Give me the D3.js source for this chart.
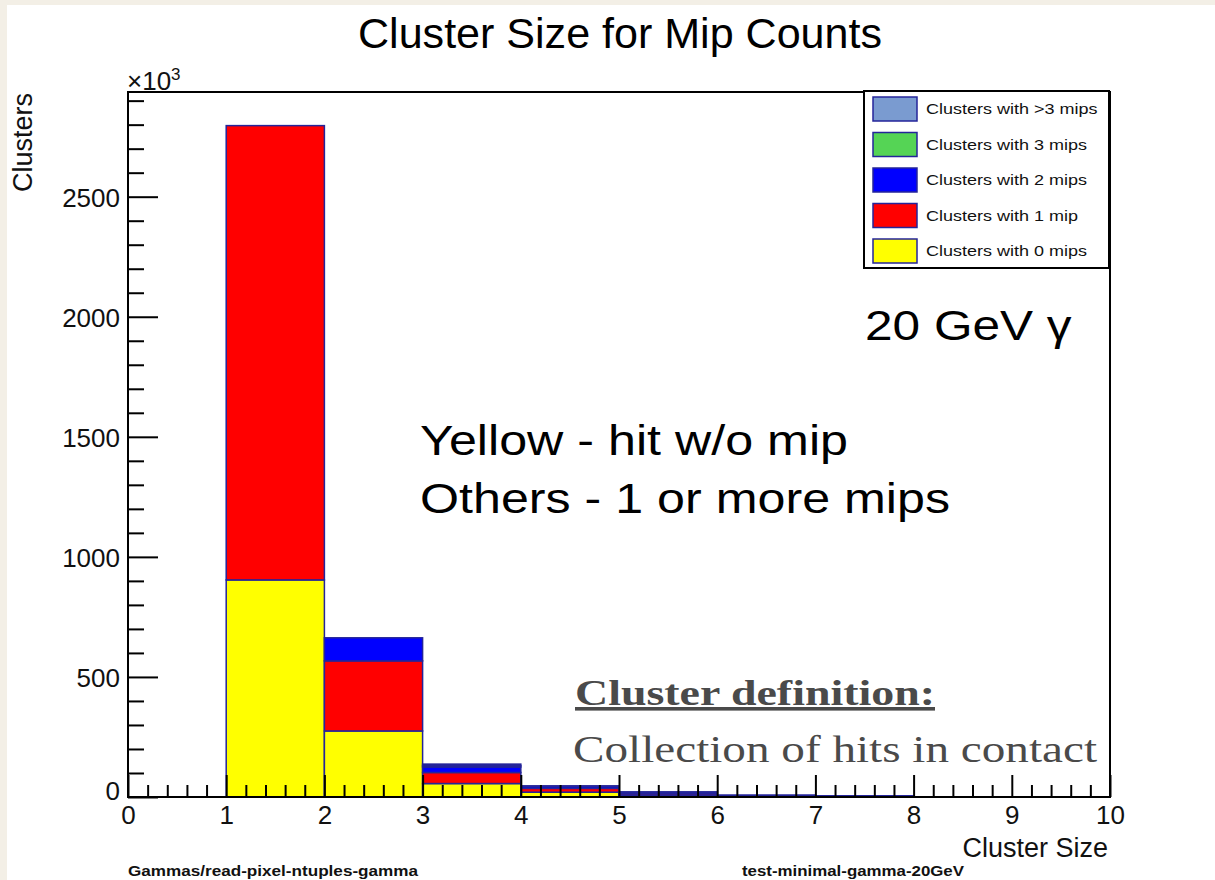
<!DOCTYPE html>
<html><head><meta charset="utf-8">
<script src="https://cdn.jsdelivr.net/npm/d3@7"></script>
<style>
html,body{margin:0;padding:0;background:#f3efe6;}
svg{display:block;}
</style></head>
<body>
<svg id="chart" width="1215" height="880"></svg>
<script>
// ---- data ----
const binEdges = [0,1,2,3,4,5,6,7,8,9,10];
const zeroMips  = [0, 904, 275, 56, 20, 6, 3, 2, 0, 0];
const oneMip    = [0, 1892, 292, 46, 16, 7, 3, 2, 0, 0];
const twoMips   = [0, 0, 96, 23, 8, 6, 2, 1, 0, 0];
const threeMips = [0, 0, 0, 6, 1, 1, 0, 0, 0, 0];
const moreMips  = [0, 0, 0, 6, 1, 1, 0, 0, 0, 0];
const seriesNames = ["Clusters with 0 mips","Clusters with 1 mip","Clusters with 2 mips","Clusters with 3 mips","Clusters with >3 mips"];
const seriesColors = ["#ffff00","#ff0000","#0000ff","#55d455","#7a9bd0"];
const xTicks = [0,1,2,3,4,5,6,7,8,9,10];
const yTicks = [0,500,1000,1500,2000,2500];
const yMax = 2936;

const svg = d3.select("#chart");
svg.append("rect").attr("x",7).attr("y",5).attr("width",1208).attr("height",875).attr("fill","#ffffff");

const x = d3.scaleLinear().domain([0,10]).range([128,1110]);
const y = d3.scaleLinear().domain([0,yMax]).range([797,92]);

function stretch(sel, f){
  const n = sel.node();
  const w = n.getComputedTextLength();
  sel.attr("textLength", w*f).attr("lengthAdjust","spacingAndGlyphs");
  return sel;
}

const allSeries = [zeroMips, oneMip, twoMips, threeMips, moreMips];
const rows = binEdges.slice(0,-1).map((b,i)=>{
  const r = {x0:b, x1:binEdges[i+1]};
  allSeries.forEach((s,k)=>r["s"+k]=s[i]);
  return r;
});
const stack = d3.stack().keys(allSeries.map((_,k)=>"s"+k));
const stacked = stack(rows);

const gBars = svg.append("g");
stacked.forEach((layer,k)=>{
  gBars.selectAll(null).data(layer.filter(d=>d[1]-d[0]>0)).enter().append("rect")
    .attr("x",d=>x(d.data.x0))
    .attr("width",d=>x(d.data.x1)-x(d.data.x0))
    .attr("y",d=>y(d[1]))
    .attr("height",d=>y(d[0])-y(d[1]))
    .attr("fill",seriesColors[k])
    .attr("stroke","#24249a").attr("stroke-width",1.5);
});

const fontAxis = "Liberation Sans, Arial, Helvetica, sans-serif";
const xMinor = d3.range(0,10.001,0.2).filter(v=>Math.abs(v-Math.round(v))>1e-6);
const yMinor = d3.range(0,yMax,100).filter(v=>v%500!==0);

const gx = svg.append("g").attr("transform","translate(0,797)");
gx.call(d3.axisBottom(x).tickValues(xTicks).tickSizeInner(-22).tickSizeOuter(0).tickPadding(9).tickFormat(d3.format("d")));
const gxm = svg.append("g").attr("transform","translate(0,797)");
gxm.call(d3.axisBottom(x).tickValues(xMinor).tickSizeInner(-12).tickSizeOuter(0).tickFormat(""));
const gy = svg.append("g").attr("transform","translate(128,0)");
gy.call(d3.axisLeft(y).tickValues(yTicks).tickSizeInner(-30).tickSizeOuter(0).tickPadding(8).tickFormat(d3.format("d")));
const gym = svg.append("g").attr("transform","translate(128,0)");
gym.call(d3.axisLeft(y).tickValues(yMinor).tickSizeInner(-16).tickSizeOuter(0).tickFormat(""));
[gx,gxm,gy,gym].forEach(g=>{
  g.select(".domain").remove();
  g.selectAll(".tick line").attr("stroke","#000").attr("stroke-width",2);
  g.selectAll("text").attr("font-family",fontAxis).attr("font-size",26).attr("fill","#111");
});
gy.selectAll(".tick text").attr("dy","0.36em");
gy.selectAll(".tick").filter(d=>d===0).select("text").attr("dy","0.1em");

svg.append("rect").attr("x",128).attr("y",92).attr("width",1110-128).attr("height",797-92)
  .attr("fill","none").attr("stroke","#000").attr("stroke-width",2);

const ex = svg.append("text").attr("x",127).attr("y",90).attr("font-family",fontAxis).attr("font-size",26).attr("fill","#111");
ex.append("tspan").text("\u00d710");
ex.append("tspan").attr("dy",-10).attr("font-size",17).text("3");

svg.append("text").attr("x",620).attr("y",48).attr("text-anchor","middle")
  .attr("font-family",fontAxis).attr("font-size",42).attr("fill","#000")
  .attr("textLength",524).attr("lengthAdjust","spacingAndGlyphs")
  .text("Cluster Size for Mip Counts");

svg.append("text").attr("transform","translate(32,93) rotate(-90)").attr("text-anchor","end")
  .attr("font-family",fontAxis).attr("font-size",27).attr("fill","#111").text("Clusters");
svg.append("text").attr("x",1108).attr("y",857).attr("text-anchor","end")
  .attr("font-family",fontAxis).attr("font-size",27).attr("fill","#111").text("Cluster Size");

svg.append("text").attr("x",128).attr("y",876).attr("font-family",fontAxis).attr("font-weight","bold")
  .attr("font-size",15).attr("fill","#111").attr("textLength",290).attr("lengthAdjust","spacingAndGlyphs")
  .text("Gammas/read-pixel-ntuples-gamma");
svg.append("text").attr("x",742).attr("y",876).attr("font-family",fontAxis).attr("font-weight","bold")
  .attr("font-size",15).attr("fill","#111").attr("textLength",222).attr("lengthAdjust","spacingAndGlyphs")
  .text("test-minimal-gamma-20GeV");

const lg = svg.append("g");
lg.append("rect").attr("x",864).attr("y",91).attr("width",245).attr("height",177)
  .attr("fill","#fff").attr("stroke","#000").attr("stroke-width",2);
const legendOrder = [4,3,2,1,0];
legendOrder.forEach((k,i)=>{
  const cy = 109 + i*35.5;
  lg.append("rect").attr("x",873).attr("y",cy-12).attr("width",44).attr("height",24)
    .attr("fill",seriesColors[k]).attr("stroke","#24249a").attr("stroke-width",1.5);
  const t = lg.append("text").attr("x",926).attr("y",cy+5).attr("font-family",fontAxis)
    .attr("font-size",15).attr("fill","#111").text(seriesNames[k]);
  stretch(t, 1.2);
});

stretch(svg.append("text").attr("x",865).attr("y",340).attr("font-family",fontAxis).attr("font-size",42).attr("fill","#000").text("20 GeV \u03b3"), 1.18);
svg.append("text").attr("x",420).attr("y",455).attr("font-family",fontAxis).attr("font-size",43).attr("fill","#000")
  .attr("textLength",428).attr("lengthAdjust","spacingAndGlyphs").text("Yellow - hit w/o mip");
svg.append("text").attr("x",420).attr("y",513).attr("font-family",fontAxis).attr("font-size",43).attr("fill","#000")
  .attr("textLength",530).attr("lengthAdjust","spacingAndGlyphs").text("Others - 1 or more mips");
const serif = "Liberation Serif, DejaVu Serif, serif";
svg.append("text").attr("x",575).attr("y",705).attr("font-family",serif).attr("font-weight","bold")
  .attr("font-size",36).attr("fill","#4a4a4a").attr("text-decoration","underline")
  .attr("textLength",360).attr("lengthAdjust","spacingAndGlyphs").text("Cluster definition:");
svg.append("text").attr("x",573).attr("y",762).attr("font-family",serif)
  .attr("font-size",38).attr("fill","#4a4a4a")
  .attr("textLength",524).attr("lengthAdjust","spacingAndGlyphs").text("Collection of hits in contact");
</script>
</body></html>
